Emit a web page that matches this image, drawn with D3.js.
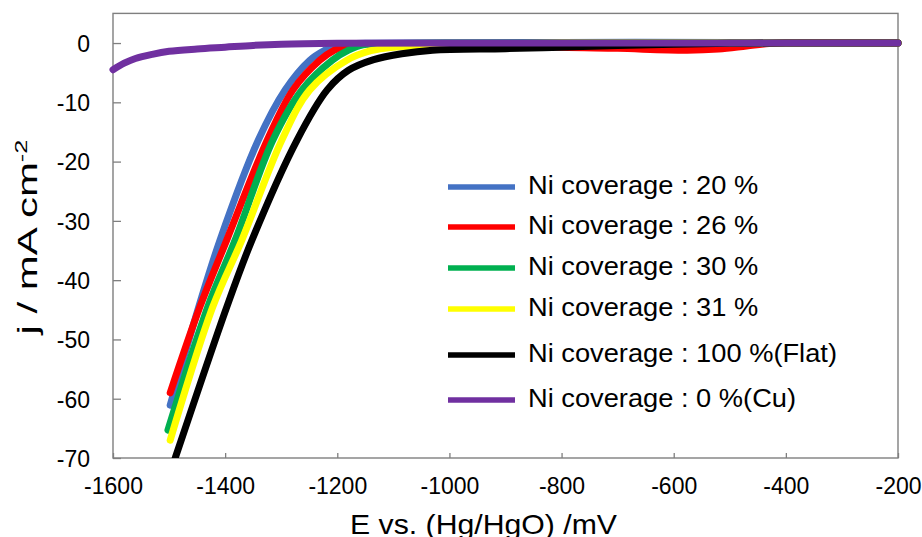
<!DOCTYPE html>
<html>
<head>
<meta charset="utf-8">
<script src="https://cdn.jsdelivr.net/npm/d3@7"></script>
<style>
  html, body { margin: 0; padding: 0; background: #ffffff; }
  svg { display: block; font-family: "Liberation Sans", Arial, sans-serif; }
</style>
</head>
<body>
<svg id="chart" width="922" height="537"></svg>
<script>
// Linear sweep voltammograms: potential E (mV vs. Hg/HgO) and current density j (mA cm^-2)
const eNi20 = [-1498, -1447, -1409, -1341, -1293, -1249, -1222, -1200, -1150, -1000, -800, -500, -400, -200];
const jNi20 = [-61.1, -44.5, -33.2, -16.4, -7.9, -2.9, -1.2, -0.3, -0.05, 0, 0.1, 0.1, 0, 0];

const eNi26 = [-1498, -1445, -1397, -1325, -1279, -1231, -1205, -1177, -1120, -1000, -900, -800, -700, -576, -520, -470, -430, -400, -200];
const jNi26 = [-59.0, -44.5, -33.2, -16.4, -7.9, -2.9, -1.2, -0.3, -0.1, -0.1, -0.3, -0.7, -0.9, -1.2, -1.0, -0.5, -0.1, 0, 0];

const eNi30 = [-1502, -1431, -1382, -1315, -1263, -1209, -1180, -1154, -1100, -1000, -200];
const jNi30 = [-65.3, -44.5, -33.2, -16.4, -7.9, -2.9, -1.2, -0.3, -0.1, 0, 0];

const eNi31 = [-1498, -1422, -1370, -1299, -1249, -1183, -1140, -1100, -1000, -900, -800, -200];
const jNi31 = [-67.0, -44.5, -33.2, -16.4, -7.9, -2.9, -1.3, -0.7, -0.3, -0.1, 0, 0];

const eNiFlat = [-1496, -1489, -1397, -1352, -1272, -1218, -1180, -1135, -1085, -1030, -900, -800, -700, -600, -500, -400, -200];
const jNiFlat = [-72, -70, -44.5, -33.2, -16.4, -7.9, -4.6, -2.8, -1.8, -1.2, -0.95, -0.7, -0.4, -0.2, -0.05, 0, 0];

const eCu = [-1600, -1580, -1560, -1530, -1500, -1450, -1400, -1350, -1300, -1200, -1000, -200];
const jCu = [-4.5, -3.4, -2.6, -1.9, -1.4, -1.0, -0.7, -0.4, -0.2, -0.05, 0, 0];

const seriesLabels = [
  "Ni coverage : 20 %",
  "Ni coverage : 26 %",
  "Ni coverage : 30 %",
  "Ni coverage : 31 %",
  "Ni coverage : 100 %(Flat)",
  "Ni coverage : 0 %(Cu)"
];

const xTicks = [-1600, -1400, -1200, -1000, -800, -600, -400, -200];
const yTicks = [0, -10, -20, -30, -40, -50, -60, -70];

// Styling
const palette = ["#4472C4", "#FF0000", "#00B050", "#FFFF00", "#000000", "#7030A0"];
const frameColor = "#7f7f7f";

const series = [
  [eNi20, jNi20], [eNi26, jNi26], [eNi30, jNi30],
  [eNi31, jNi31], [eNiFlat, jNiFlat], [eCu, jCu]
].map(([es, js], i) => ({
  label: seriesLabels[i],
  color: palette[i],
  points: es.map((e, k) => ({ e, j: js[k] }))
}));

const svg = d3.select("#chart");
const plot = { left: 113, right: 898, top: 13.4, bottom: 458 };

const x = d3.scaleLinear().domain([-1600, -200]).range([plot.left, plot.right]);
const y = d3.scaleLinear().domain([-70, 5]).range([plot.bottom, plot.top]);

// Clip region for the curves (a little slack on the left for the round cap)
svg.append("defs").append("clipPath").attr("id", "plotClip")
  .append("rect")
  .attr("x", plot.left - 4).attr("y", plot.top)
  .attr("width", plot.right - plot.left + 8)
  .attr("height", plot.bottom - plot.top);

// Axes with inward ticks
const yAxis = d3.axisLeft(y).tickValues(yTicks).tickFormat(d => String(d))
  .tickSizeInner(-8).tickSizeOuter(0).tickPadding(23);
const xAxis = d3.axisBottom(x).tickValues(xTicks).tickFormat(d => String(d))
  .tickSizeInner(-5).tickSizeOuter(0).tickPadding(20);

const gy = svg.append("g").attr("transform", `translate(${plot.left},0)`).call(yAxis);
const gx = svg.append("g").attr("transform", `translate(0,${plot.bottom})`).call(xAxis);

[gx, gy].forEach(g => {
  g.select(".domain").remove();
  g.selectAll(".tick line").attr("stroke", frameColor).attr("stroke-width", 1.3);
  g.selectAll(".tick text")
    .attr("fill", "#000")
    .style("font-family", "\"Liberation Sans\", Arial, sans-serif")
    .style("font-size", "23px");
});
gy.selectAll(".tick text").attr("dy", "0.36em");

// Plot frame
svg.append("rect")
  .attr("x", plot.left).attr("y", plot.top)
  .attr("width", plot.right - plot.left).attr("height", plot.bottom - plot.top)
  .attr("fill", "none").attr("stroke", frameColor).attr("stroke-width", 1.4);

// Curves
const line = d3.line().x(d => x(d.e)).y(d => y(d.j)).curve(d3.curveCatmullRom.alpha(0.5));

svg.append("g").attr("clip-path", "url(#plotClip)")
  .selectAll("path").data(series).join("path")
  .attr("d", d => line(d.points))
  .attr("fill", "none")
  .attr("stroke", d => d.color)
  .attr("stroke-width", 7)
  .attr("stroke-linecap", "round")
  .attr("stroke-linejoin", "round");

// Legend
const legendRowY = [187, 227, 268, 309, 355, 400];
const legend = svg.append("g");
series.forEach((s, i) => {
  const yy = legendRowY[i];
  legend.append("line")
    .attr("x1", 448).attr("x2", 515).attr("y1", yy).attr("y2", yy)
    .attr("stroke", s.color).attr("stroke-width", 5.5);
  const t = legend.append("text")
    .attr("x", 528).attr("y", yy + 7)
    .style("font-size", "25px").attr("fill", "#000")
    .text(s.label);
  const w = t.node().getComputedTextLength();
  t.attr("textLength", w * 1.09).attr("lengthAdjust", "spacingAndGlyphs");
});

// Axis titles
svg.append("text")
  .attr("x", 483.5).attr("y", 534)
  .attr("text-anchor", "middle")
  .style("font-size", "28px").attr("fill", "#000")
  .attr("textLength", 267).attr("lengthAdjust", "spacingAndGlyphs")
  .text("E vs. (Hg/HgO) /mV");

const yTitle = svg.append("text")
  .attr("transform", "translate(37,237) rotate(-90)")
  .attr("text-anchor", "middle")
  .attr("textLength", 195).attr("lengthAdjust", "spacingAndGlyphs")
  .style("font-size", "28px").attr("fill", "#000");
yTitle.append("tspan").text("j / mA cm");
yTitle.append("tspan").attr("dy", "-10").style("font-size", "17px").text("-2");
</script>
</body>
</html>
